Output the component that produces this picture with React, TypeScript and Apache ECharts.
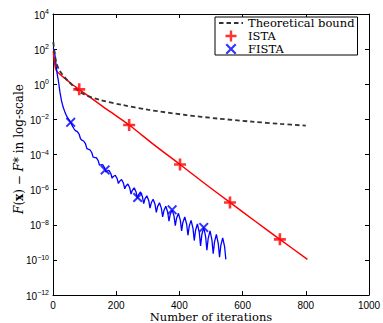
import React, { useEffect, useRef } from "react";
import * as echarts from "echarts";

// Theoretical bound (dashed)
const boundIter = [1, 5, 10, 20, 47, 90, 150, 220, 300, 420, 520, 630, 720, 800];
const boundLog10 = [2.4, 1.8, 1.28, 0.8, 0.2, -0.5, -0.9, -1.18, -1.45, -1.75, -1.95, -2.13, -2.26, -2.36];

// ISTA (red)
const istaIter = [1, 5, 10, 20, 40, 60, 83, 120, 160, 200, 241, 320, 402, 480, 560, 640, 718, 805];
const istaLog10 = [1.9, 1.2, 0.8, 0.6, 0.3, 0.0, -0.29, -0.78, -1.3, -1.8, -2.32, -3.45, -4.57, -5.65, -6.73, -7.8, -8.83, -9.97];
const istaMarkIter = [83, 241, 402, 560, 718];
const istaMarkLog10 = [-0.29, -2.32, -4.57, -6.73, -8.83];

// FISTA (blue)
const fistaIter = [1, 5, 9, 13, 17, 22, 27, 32, 38, 44, 50, 56, 62,
  67, 71, 77, 83,
  87, 91, 97, 103,
  107, 111, 117, 123,
  127, 131, 137, 143,
  147, 151, 157, 163,
  167, 171, 177, 183,
  187, 191, 197, 203,
  207, 211, 217, 223,
  227, 231, 237, 243,
  247, 251, 257, 263,
  267, 271, 277, 283,
  287, 291, 297, 303,
  307, 311, 317, 323,
  327, 331, 337, 343,
  347, 351, 357, 363,
  367, 371, 377, 383,
  387, 391, 397, 403,
  407, 411, 417, 423,
  427, 431, 437, 443,
  447, 451, 457, 463,
  467, 471, 477, 483,
  487, 491, 497, 503,
  507, 511, 517, 523,
  527, 531, 537, 543,
  547];
const fistaLog10 = [2.05, 1.85, 1.2, 0.6, 0.2, -0.45, -0.95, -1.3, -1.6, -1.85, -2.0, -2.17, -2.4,
  -2.55, -2.64, -2.70, -2.86,
  -3.10, -3.18, -3.23, -3.40,
  -3.65, -3.70, -3.73, -3.90,
  -4.15, -4.17, -4.18, -4.35,
  -4.60, -4.59, -4.58, -4.75,
  -5.00, -4.94, -4.90, -5.08,
  -5.35, -5.25, -5.18, -5.37,
  -5.65, -5.52, -5.43, -5.64,
  -5.95, -5.79, -5.68, -5.91,
  -6.25, -6.04, -5.90, -6.14,
  -6.50, -6.28, -6.13, -6.40,
  -6.80, -6.53, -6.35, -6.63,
  -7.05, -6.75, -6.55, -6.85,
  -7.30, -6.97, -6.75, -7.07,
  -7.55, -7.19, -6.95, -7.29,
  -7.80, -7.41, -7.15, -7.51,
  -8.05, -7.63, -7.35, -7.75,
  -8.35, -7.87, -7.55, -7.97,
  -8.60, -8.09, -7.75, -8.21,
  -8.90, -8.33, -7.95, -8.45,
  -9.20, -8.57, -8.15, -8.67,
  -9.45, -8.79, -8.35, -8.87,
  -9.65, -8.99, -8.55, -9.07,
  -9.85, -9.19, -8.75, -9.24,
  -9.97];
const fistaMarkIter = [56, 165, 268, 377, 477];
const fistaMarkLog10 = [-2.17, -4.88, -6.45, -7.15, -8.15];

const yMinExp = -12;
const yMaxExp = 4;

const toPoints = (xs: number[], es: number[]) => xs.map((x, i) => [x, Math.pow(10, es[i])]);

const PLUS = "path://M4.7,0H7.3V4.7H12V7.3H7.3V12H4.7V7.3H0V4.7H4.7Z";
const CROSS = "path://M0,1.7L1.7,0L6,4.3L10.3,0L12,1.7L7.7,6L12,10.3L10.3,12L6,7.7L1.7,12L0,10.3L4.3,6Z";

const SERIF = "'DejaVu Serif', 'Liberation Serif', serif";
const SANS = "'Liberation Sans', Arial, sans-serif";

export default function App() {
  const ref = useRef<HTMLDivElement>(null);
  useEffect(() => {
    if (!ref.current) return;
    const chart = echarts.init(ref.current, null, { renderer: "svg" });
    const yLabel = (v: number) => {
      const e = Math.round(Math.log10(v));
      return "{b|10}{s|" + (e < 0 ? "\u2212" + -e : String(e)) + "}";
    };
    const yRich = {
      b: { fontSize: 10, fontFamily: SANS, color: "#000", lineHeight: 12, verticalAlign: "bottom" },
      s: { fontSize: 7, fontFamily: SANS, color: "#000", lineHeight: 11, verticalAlign: "top" },
    };
    const common = {
      axisLine: { show: true, onZero: false, lineStyle: { color: "#000", width: 1 } },
      axisTick: { show: true, inside: true, length: 4, lineStyle: { color: "#000", width: 1 } },
      splitLine: { show: false },
    };
    const option: any = {
      animation: false,
      backgroundColor: "#fff",
      grid: { left: 53, right: 14, top: 14, bottom: 28, containLabel: false, outerBoundsMode: "none" },
      legend: {
        data: [
          { name: "Theoretical bound", itemStyle: { opacity: 0 } },
          { name: "ISTA", icon: PLUS },
          { name: "FISTA", icon: CROSS },
        ],
        orient: "vertical",
        left: 215,
        top: 17,
        backgroundColor: "#fff",
        borderColor: "#000",
        borderWidth: 1,
        padding: [0, 3, 0, 3],
        itemGap: 1,
        itemWidth: 24,
        itemHeight: 11,
        textStyle: { fontFamily: SERIF, fontSize: 11.5, color: "#000", lineHeight: 11 },
      },
      xAxis: [
        {
          ...common,
          type: "value",
          min: 0,
          max: 1000,
          interval: 200,
          position: "bottom",
          axisLabel: { fontSize: 10, fontFamily: SANS, color: "#000", margin: 5, formatter: (v: number) => String(v) },
          name: "Number of iterations",
          nameLocation: "middle",
          nameGap: 16,
          nameMoveOverlap: false,
          nameTextStyle: { fontFamily: SERIF, fontSize: 11.5, color: "#000", lineHeight: 12 },
        },
        {
          ...common,
          type: "value",
          min: 0,
          max: 1000,
          interval: 200,
          position: "top",
          axisLabel: { show: false },
        },
      ],
      yAxis: [
        {
          ...common,
          type: "log",
          logBase: 10,
          min: Math.pow(10, yMinExp),
          max: Math.pow(10, yMaxExp),
          interval: 2,
          splitNumber: 8,
          position: "left",
          axisLabel: { formatter: yLabel, rich: yRich, margin: 4 },
          name: "{i|F}({b|x}) \u2212 {i|F}{n|*} in log-scale",
          nameLocation: "middle",
          nameRotate: 90,
          nameGap: 28,
          nameMoveOverlap: false,
          nameTextStyle: {
            fontFamily: SERIF,
            fontSize: 12,
            color: "#000",
            padding: [0, 0, 0, 11],
            rich: {
              i: { fontFamily: SERIF, fontSize: 12, fontStyle: "italic", color: "#000" },
              b: { fontFamily: SERIF, fontSize: 12, fontWeight: "bold", color: "#000" },
              n: { fontFamily: SERIF, fontSize: 12, color: "#000" },
            },
          },
        },
        {
          ...common,
          type: "log",
          logBase: 10,
          min: Math.pow(10, yMinExp),
          max: Math.pow(10, yMaxExp),
          interval: 2,
          splitNumber: 8,
          position: "right",
          axisLabel: { show: false },
        },
      ],
      series: [
        {
          name: "Theoretical bound",
          type: "line",
          data: toPoints(boundIter, boundLog10),
          symbol: "none",
          smooth: 0.3,
          lineStyle: { color: "#333", width: 1.8, type: [4.5, 3] },
          itemStyle: { color: "#333" },
          z: 3,
        },
        {
          name: "ISTA line",
          type: "line",
          data: toPoints(istaIter, istaLog10),
          symbol: "none",
          smooth: 0.3,
          lineStyle: { color: "#ff0000", width: 1.5 },
          z: 2,
        },
        {
          name: "FISTA line",
          type: "line",
          data: toPoints(fistaIter, fistaLog10),
          symbol: "none",
          lineStyle: { color: "#0000ff", width: 1.3 },
          z: 2,
        },
        {
          name: "ISTA",
          type: "scatter",
          data: toPoints(istaMarkIter, istaMarkLog10),
          symbol: PLUS,
          symbolSize: 12,
          symbolKeepAspect: true,
          itemStyle: { color: "#ff0000" },
          z: 5,
        },
        {
          name: "FISTA",
          type: "scatter",
          data: toPoints(fistaMarkIter, fistaMarkLog10),
          symbol: CROSS,
          symbolSize: 10,
          symbolKeepAspect: true,
          itemStyle: { color: "#0000ff" },
          z: 5,
        },
      ],
    };
    chart.setOption(option);
    return () => chart.dispose();
  }, []);
  return <div ref={ref} style={{ position: "fixed", left: 0, top: 0, width: 383, height: 323 }} />;
}
